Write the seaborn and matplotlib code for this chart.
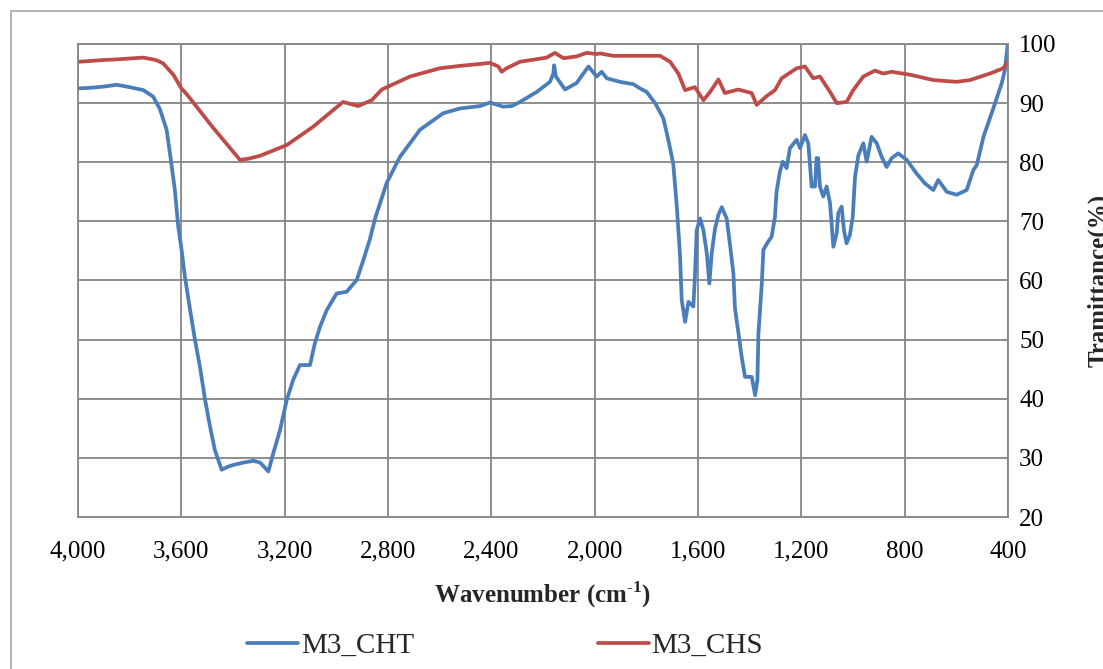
import matplotlib
matplotlib.use("Agg")
import matplotlib.pyplot as plt
import seaborn as sns
import pandas as pd
from matplotlib.patches import Rectangle

# ---- data ----
cht_wn = [3995, 3950, 3900, 3850, 3800, 3747, 3709, 3683, 3657, 3644, 3625, 3612, 3599, 3586,
          3566, 3547, 3528, 3508, 3489, 3470, 3444, 3420, 3399, 3360, 3321, 3295, 3263, 3244,
          3218, 3192, 3167, 3141, 3102, 3083, 3063, 3037, 2999, 2960, 2921, 2895, 2870, 2850,
          2805, 2754, 2676, 2586, 2521, 2444, 2405, 2354, 2321, 2289, 2224, 2173, 2160, 2157,
          2150, 2115, 2070, 2024, 1992, 1973, 1953, 1902, 1850, 1825, 1799, 1766, 1734, 1715,
          1696, 1683, 1670, 1663, 1650, 1637, 1618, 1612, 1605, 1592, 1579, 1566, 1556, 1547,
          1534, 1521, 1508, 1489, 1476, 1463, 1457, 1444, 1431, 1418, 1392, 1379, 1370, 1366,
          1353, 1347, 1328, 1315, 1302, 1296, 1283, 1272, 1257, 1244, 1218, 1205, 1186, 1173,
          1160, 1147, 1141, 1135, 1128, 1115, 1102, 1089, 1076, 1063, 1057, 1044, 1035, 1025,
          1012, 1001, 992, 979, 960, 947, 928, 908, 889, 870, 850, 825, 792, 754, 721, 689,
          670, 637, 599, 560, 534, 521, 495, 457, 424, 412, 401]
cht_t = [92.5, 92.6, 92.8, 93.1, 92.7, 92.2, 91.1, 89.0, 85.5, 81.5, 75.3, 69.1, 65.2, 60.6,
         55.0, 49.9, 45.4, 39.8, 35.3, 31.3, 28.0, 28.5, 28.8, 29.2, 29.5, 29.2, 27.7, 30.8,
         34.7, 39.8, 43.2, 45.7, 45.7, 49.4, 52.2, 55.0, 57.8, 58.1, 60.1, 63.5, 67.0, 70.5,
         76.5, 80.9, 85.5, 88.3, 89.1, 89.5, 90.1, 89.4, 89.5, 90.2, 91.9, 93.6, 95.0, 96.4,
         94.5, 92.3, 93.4, 96.2, 94.5, 95.3, 94.2, 93.6, 93.2, 92.5, 91.9, 90.0, 87.4, 83.8,
         79.8, 73.1, 64.6, 56.7, 53.0, 56.4, 55.6, 60.6, 68.5, 70.5, 68.5, 64.6, 59.5, 64.6,
         68.8, 71.1, 72.4, 70.5, 66.0, 61.2, 55.3, 51.3, 47.1, 43.7, 43.7, 40.6, 43.2, 51.1,
         59.5, 65.2, 66.6, 67.4, 70.8, 75.0, 78.4, 80.1, 79.0, 82.4, 83.8, 82.4, 84.6, 83.2,
         75.9, 75.9, 80.7, 80.7, 75.9, 74.2, 75.9, 73.1, 65.7, 68.0, 71.4, 72.5, 68.5, 66.3,
         67.7, 70.8, 77.6, 81.2, 83.2, 80.1, 84.3, 83.2, 80.9, 79.2, 80.7, 81.5, 80.4, 78.1,
         76.4, 75.3, 77.0, 75.0, 74.5, 75.3, 78.7, 79.5, 84.3, 89.1, 93.4, 95.6, 100.0]

chs_wn = [3995, 3900, 3850, 3747, 3700, 3683, 3670, 3631, 3600, 3579, 3480, 3373, 3340, 3295,
          3192, 3090, 2974, 2916, 2863, 2824, 2715, 2599, 2521, 2405, 2373, 2360, 2341, 2289,
          2186, 2154, 2121, 2070, 2031, 1992, 1979, 1928, 1747, 1708, 1676, 1650, 1612, 1579,
          1553, 1521, 1496, 1444, 1392, 1373, 1334, 1302, 1276, 1218, 1186, 1154, 1128, 1089,
          1063, 1025, 999, 960, 915, 883, 850, 779, 689, 599, 547, 470, 418, 401]
chs_t = [97.0, 97.3, 97.4, 97.7, 97.3, 97.0, 96.7, 94.8, 92.5, 91.5, 86.0, 80.4, 80.6, 81.1,
         82.9, 86.0, 90.2, 89.5, 90.5, 92.3, 94.5, 95.9, 96.3, 96.8, 96.2, 95.3, 95.9, 97.0,
         97.7, 98.5, 97.6, 97.9, 98.5, 98.3, 98.4, 98.0, 98.0, 97.0, 95.0, 92.2, 92.7, 90.5,
         91.9, 94.0, 91.7, 92.3, 91.7, 89.7, 91.2, 92.2, 94.2, 95.9, 96.2, 94.2, 94.5, 91.9,
         90.0, 90.2, 92.2, 94.5, 95.5, 95.0, 95.3, 94.8, 93.9, 93.6, 93.9, 95.0, 95.9, 97.0]

series_names = ["M3_CHT", "M3_CHS"]
x_ticks = [4000, 3600, 3200, 2800, 2400, 2000, 1600, 1200, 800, 400]
y_ticks = [20, 30, 40, 50, 60, 70, 80, 90, 100]

df = pd.concat([
    pd.DataFrame({"wn": cht_wn, "T": cht_t, "series": series_names[0]}),
    pd.DataFrame({"wn": chs_wn, "T": chs_t, "series": series_names[1]}),
])

sns.set_theme(style="white")
plt.rcParams["font.family"] = ["Liberation Serif", "DejaVu Serif"]
plt.rcParams["mathtext.fontset"] = "custom"
plt.rcParams["mathtext.rm"] = "Liberation Serif"
plt.rcParams["mathtext.bf"] = "Liberation Serif:bold"

W, H = 1103, 669
fig = plt.figure(figsize=(W / 100, H / 100), dpi=100)
ax = fig.add_axes([78 / W, 1 - 517 / H, (1008 - 78) / W, (517 - 44) / H])

palette = {"M3_CHT": "#4a7ebb", "M3_CHS": "#be4b48"}
sns.lineplot(data=df, x="wn", y="T", hue="series", palette=palette, estimator=None,
             sort=False, linewidth=2.7, legend=False, ax=ax)

ax.set_xlim(4000, 400)
ax.set_ylim(20, 100)
ax.set_xticks(x_ticks)
ax.set_xticklabels([f"{v:,}" for v in x_ticks])
ax.set_yticks(y_ticks)
ax.yaxis.tick_right()
ax.yaxis.set_label_position("right")
ax.tick_params(axis="both", length=0, labelsize=18, colors="black")
ax.tick_params(axis="x", pad=17)
ax.tick_params(axis="y", pad=8)
ax.grid(True, color="#868686", linewidth=1.3)
for s in ax.spines.values():
    s.set_visible(True)
    s.set_color("#868686")
    s.set_linewidth(1.3)

ax.set_xlabel(r"Wavenumber (cm$^{\mathbf{\text{-}1}}$)", fontsize=18, fontweight="bold", labelpad=12)
ax.set_ylabel("Tramittance(%)", fontsize=18, fontweight="bold", rotation=90, labelpad=22)

lines = ax.get_lines()[:2]
fig.legend(lines, series_names, loc="center", bbox_to_anchor=(505 / W, 1 - 646 / H), ncol=2,
           frameon=False, handlelength=1.75, handletextpad=0.1, columnspacing=6.3, fontsize=21)

fig.patches.append(Rectangle((11 / W, -0.1), 1.2, 1 - 11 / H + 0.1, transform=fig.transFigure,
                             fill=False, edgecolor="#a6a6a6", linewidth=1.2))

fig.savefig("out.png", dpi=100)
